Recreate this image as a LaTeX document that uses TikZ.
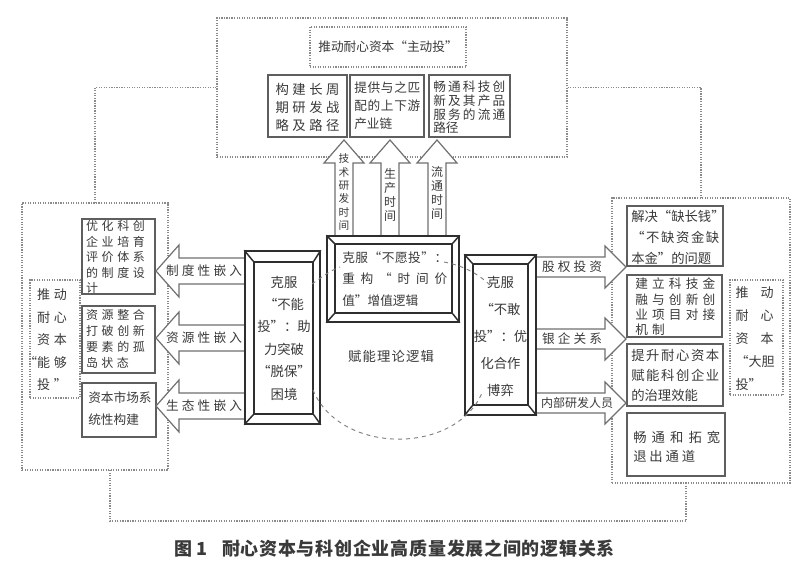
\documentclass[tikz,border=0pt]{standalone}
\usepackage{fontspec}
\setmainfont{Noto Sans CJK SC}
\definecolor{txtc}{HTML}{3A3A3A}
\definecolor{boxc}{HTML}{5E5E5E}
\definecolor{dotc}{HTML}{8A8A8A}
\definecolor{frmc}{HTML}{2E2E2E}
\definecolor{arrc}{HTML}{707070}
\newlength\px \setlength\px{0.75pt}
\def\sprA#1{\ifx\relax#1\else #1\expandafter\sprB\fi}
\def\sprB#1{\ifx\relax#1\else\hfill #1\expandafter\sprB\fi}
\newcommand\jl[2]{\makebox[#1][s]{\sprA#2\relax}}
\newcommand\fs[2]{\fontsize{#1}{#2}\selectfont}
\newcommand\larrow[1]{\draw[barr] (156,#1) -- (179,#1-26) -- (179,#1-13) -- (250,#1-13) -- (250,#1+13) -- (179,#1+13) -- (179,#1+26) -- cycle;}
\newcommand\rarrow[1]{\draw[barr] (626,#1) -- (605,#1-21) -- (605,#1-10) -- (530,#1-10) -- (530,#1+10) -- (605,#1+10) -- (605,#1+21) -- cycle;}
\newcommand\uarrow[1]{\draw[barr] (#1,140) -- (#1+20,163) -- (#1+9,163) -- (#1+9,242) -- (#1-9,242) -- (#1-9,163) -- (#1-20,163) -- cycle;}
\begin{document}
\begin{tikzpicture}[x=0.75pt,y=-0.75pt,
  dbox/.style={draw=dotc, densely dotted, line width=0.9pt, inner sep=0pt},
  sbox/.style={draw=boxc, line width=1.3pt, fill=white, inner sep=0pt},
  txt/.style={text=txtc, inner sep=0pt, align=left},
  barr/.style={draw=arrc, line width=0.9pt, fill=white, line join=miter},
  fout/.style={draw=frmc, line width=1.1pt, fill=white, inner sep=0pt},
  fin/.style={draw=frmc, line width=1.1pt, inner sep=0pt},
  frm/.style={draw=frmc, line width=1.1pt},
  conn/.style={draw=dotc, densely dotted, line width=0.9pt},
  arcl/.style={draw=gray, dashed, line width=0.7pt}]
\useasboundingbox (0,0) rectangle (800,570);
\fill[white] (0,0) rectangle (800,570);
% outer groups
\node[dbox, minimum width=350\px, minimum height=139\px] (top) at (392,87.5) {};
\node[dbox, minimum width=146\px, minimum height=267\px] (left) at (95,336.5) {};
\node[dbox, minimum width=178\px, minimum height=285\px] (right) at (701,340.5) {};
\coordinate (lb) at (110,470);
\coordinate (rb) at (686,483);
\draw[conn] (top.west) -| (left.north);
\draw[conn] (top.east) -| (right.north);
\draw[conn] (lb) -- (110,521) -- (686,521) -- (rb);
% top boxes
\node[dbox, minimum width=156\px, minimum height=40\px] (ttl) at (388,47) {};
\node[sbox, minimum width=79\px, minimum height=62\px] (b1) at (307.5,106) {};
\node[sbox, minimum width=74\px, minimum height=62\px] (b2) at (387,106) {};
\node[sbox, minimum width=81\px, minimum height=62\px] (b3) at (469.5,106) {};
% left boxes
\node[dbox, minimum width=50\px, minimum height=118\px] (lbl) at (55,339) {};
\node[sbox, minimum width=73\px, minimum height=75\px] (L1) at (118.5,256.5) {};
\node[sbox, minimum width=73\px, minimum height=67\px] (L2) at (118.5,339.5) {};
\node[sbox, minimum width=74\px, minimum height=54\px] (L3) at (119,410) {};
% right boxes
\node[sbox, minimum width=96\px, minimum height=60\px] (R1) at (675,236) {};
\node[sbox, minimum width=95\px, minimum height=62\px] (R2) at (674.5,306) {};
\node[sbox, minimum width=96\px, minimum height=62\px] (R3) at (675,375) {};
\node[sbox, minimum width=98\px, minimum height=63\px] (R4) at (676,444.5) {};
\node[dbox, minimum width=53\px, minimum height=115\px] (rlbl) at (756.5,337.5) {};
% block arrows
\larrow{271}\larrow{338}\larrow{406}
\rarrow{267}\rarrow{339}\rarrow{403}
\uarrow{344}\uarrow{390}\uarrow{437}
% frames
\node[fout, minimum width=75\px, minimum height=173\px] (FL) at (282.5,337.5) {};
\node[fin, minimum width=59\px, minimum height=152\px] (FLi) at (283.5,338) {};
\draw[frm] (FL.north west) -- (FLi.north west) (FL.north east) -- (FLi.north east) (FL.south west) -- (FLi.south west) (FL.south east) -- (FLi.south east);
\node[fout, minimum width=132\px, minimum height=86\px] (FT) at (393,279) {};
\node[fin, minimum width=117\px, minimum height=69\px] (FTi) at (393.5,278.5) {};
\draw[frm] (FT.north west) -- (FTi.north west) (FT.north east) -- (FTi.north east) (FT.south west) -- (FTi.south west) (FT.south east) -- (FTi.south east);
\node[fout, minimum width=71\px, minimum height=160\px] (FR) at (500.5,335) {};
\node[fin, minimum width=55\px, minimum height=141\px] (FRi) at (500.5,334.5) {};
\draw[frm] (FR.north west) -- (FRi.north west) (FR.north east) -- (FRi.north east) (FR.south west) -- (FRi.south west) (FR.south east) -- (FRi.south east);
% dashed logic arcs
\coordinate (a1) at (312,284); \coordinate (a2) at (340,267);
\coordinate (a3) at (444,262); \coordinate (a4) at (492,287);
\coordinate (a5) at (313,390); \coordinate (a6) at (482,393);
\draw[arcl] (a1) .. controls (322,277) and (331,270) .. (a2);
\draw[arcl] (a3) .. controls (465,266) and (480,275) .. (a4);
\draw[arcl] (a5) .. controls (340,455) and (455,455) .. (a6);
% texts top
\node[txt, font=\fs{9.5}{12}] (ttlt) at (ttl) {推动耐心资本“主动投”};
\node[txt, font=\fs{10}{13.5}] (b1t) at (307.5,107) {\jl{64\px}{构建长周}\\\jl{64\px}{期研发战}\\\jl{64\px}{略及路径}};
\node[txt, font=\fs{9.5}{13.5}, anchor=west] (b2t) at (354,106) {\jl{66\px}{提供与之匹}\\\jl{66\px}{配的上下游}\\产业链};
\node[txt, font=\fs{9.5}{10.3}, anchor=west] (b3t) at (433,107.5) {\jl{72\px}{畅通科技创}\\\jl{72\px}{新及其产品}\\\jl{72\px}{服务的流通}\\路径};
% texts left
\node[txt, font=\fs{9.75}{16.9}] (lblt) at (52,340) {\jl{30\px}{推动}\\\jl{30\px}{耐心}\\\jl{30\px}{资本}\\\llap{“}\jl{30\px}{能够}\\\jl{30\px}{投”}};
\node[txt, font=\fs{9}{11.6}] (L1t) at (115.5,257) {\jl{59\px}{优化科创}\\\jl{59\px}{企业培育}\\\jl{59\px}{评价体系}\\\jl{59\px}{的制度设}\\计};
\node[txt, font=\fs{9}{12}] (L2t) at (115.5,339) {\jl{59\px}{资源整合}\\\jl{59\px}{打破创新}\\\jl{59\px}{要素的孤}\\\jl{43\px}{岛状态}};
\node[txt, font=\fs{9.5}{16.5}, anchor=west] (L3t) at (88,409) {\jl{62\px}{资本市场系}\\统性构建};
% texts right
\node[txt, font=\fs{10}{15.75}, anchor=west] (R1t) at (631,237) {\jl{88\px}{解决“缺长钱”}\\\jl{88\px}{“不缺资金缺}\\本金”的问题};
\node[txt, font=\fs{9.5}{11.5}, anchor=west] (R2t) at (635,307) {\jl{80\px}{建立科技金}\\\jl{80\px}{融与创新创}\\\jl{80\px}{业项目对接}\\\jl{29.5\px}{机制}};
\node[txt, font=\fs{10}{15}, anchor=west] (R3t) at (631,375) {\jl{88\px}{提升耐心资本}\\\jl{88\px}{赋能科创企业}\\的治理效能};
\node[txt, font=\fs{10}{14.25}, anchor=west] (R4t) at (633,446.5) {\jl{87\px}{畅通和拓宽}\\\jl{62\px}{退出通道}};
\node[txt, font=\fs{9.75}{17.25}] (rlblt) at (754.5,339) {\jl{38\px}{推动}\\\jl{38\px}{耐心}\\\jl{38\px}{资本}\\\jl{38\px}{“大胆}\\投”};
% frame texts
\node[txt, align=center, font=\fs{10}{16.8}] (FLt) at (284,338) {克服\\“不能\\投”：助\\力突破\\“脱保”\\困境};
\node[txt, font=\fs{9.5}{16.1}, anchor=west] (FTt) at (342,279) {\jl{105\px}{克服“不愿投”：}\\\jl{105\px}{重构“时间价}\\值”增值逻辑};
\node[txt, align=center, font=\fs{10}{20.25}] (FRt) at (500.5,336) {克服\\“不敢\\投”：优\\化合作\\博弈};
% arrow labels
\node[txt, font=\fs{9.5}{12}] (la1) at (204,271) {\jl{76\px}{制度性嵌入}};
\node[txt, font=\fs{9.5}{12}] (la2) at (204,338) {\jl{76\px}{资源性嵌入}};
\node[txt, font=\fs{9.5}{12}] (la3) at (204,406) {\jl{76\px}{生态性嵌入}};
\node[txt, font=\fs{9.5}{12}] (ra1) at (572,267) {\jl{60\px}{股权投资}};
\node[txt, font=\fs{9.5}{12}] (ra2) at (572,339) {\jl{60\px}{银企关系}};
\node[txt, font=\fs{9}{12}] (ra3) at (577,403) {内部研发人员};
\node[txt, align=center, font=\fs{8}{10}] (ua1) at (344,192) {技\\术\\研\\发\\时\\间};
\node[txt, align=center, font=\fs{9}{10.5}] (ua2) at (390,195) {生\\产\\时\\间};
\node[txt, align=center, font=\fs{9}{10.5}] (ua3) at (437,193) {流\\通\\时\\间};
\node[txt, font=\fs{10}{12}] (mid) at (391,356) {\jl{86\px}{赋能理论逻辑}};
% caption
\node[txt, font=\fs{13.5}{16}\bfseries] (capn) at (191,549) {图 1};
\node[txt, font=\fs{13.5}{16}\bfseries] (capt) at (418.5,549) {\jl{393\px}{耐心资本与科创企业高质量发展之间的逻辑关系}};
\end{tikzpicture}
\end{document}
